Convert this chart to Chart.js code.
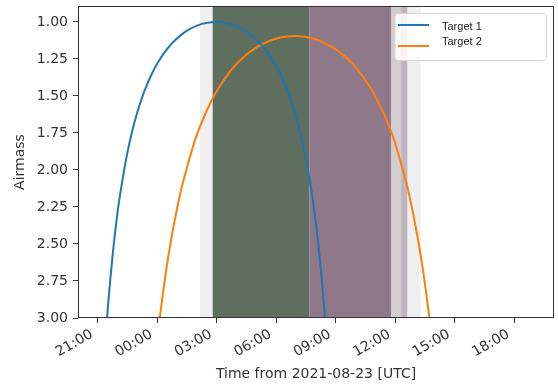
<!DOCTYPE html>
<html>
<head>
<meta charset="utf-8">
<script src="https://cdn.jsdelivr.net/npm/chart.js@4.4.0/dist/chart.umd.min.js"></script>
<style>
  html, body { margin: 0; padding: 0; background: #fff; }
</style>
</head>
<body>
<canvas id="chart" width="558" height="386"></canvas>
<script>
// --- DATA (hours relative to 2021-08-23 00:00 UTC) ---
const t1Hours = [-2.7, -2.6, -2.5, -2.25, -2.0, -1.75, -1.5, -1.25, -1.0, -0.75, -0.5, -0.25, 0, 0.25, 0.5, 0.75,
  1.0, 1.25, 1.5, 1.75, 2.0, 2.25, 2.5, 2.75, 3.0, 3.25, 3.5, 3.75, 4.0, 4.25, 4.5, 4.75,
  5.0, 5.25, 5.5, 5.75, 6.0, 6.25, 6.5, 6.75, 7.0, 7.25, 7.5, 7.75, 8.0, 8.25, 8.5, 8.6];
const t1Airmass = [3.33, 3.13, 2.94, 2.57, 2.28, 2.06, 1.876, 1.728, 1.606, 1.503, 1.417, 1.343, 1.281, 1.227, 1.182, 1.143,
  1.110, 1.082, 1.059, 1.040, 1.025, 1.013, 1.006, 1.001, 1.000, 1.002, 1.008, 1.017, 1.029, 1.045, 1.066, 1.090,
  1.120, 1.155, 1.196, 1.244, 1.300, 1.366, 1.443, 1.534, 1.643, 1.772, 1.930, 2.123, 2.366, 2.677, 3.087, 3.29];

const t2Hours = [-0.33, -0.08, 0.17, 0.42, 0.67, 0.92, 1.17, 1.42, 1.92, 2.42, 2.92, 3.42, 3.92, 4.42, 4.92, 5.42, 5.92, 6.42, 6.92,
  7.42, 7.92, 8.42, 8.92, 9.42, 9.92, 10.42, 10.92, 11.42, 11.92, 12.42, 12.67, 12.92, 13.17, 13.42, 13.67, 13.92, 14.17];
const t2Airmass = [3.59, 3.24, 2.95, 2.70, 2.49, 2.31, 2.15, 2.02, 1.79, 1.62, 1.485, 1.379, 1.294, 1.229, 1.178, 1.141, 1.115, 1.100, 1.095,
  1.100, 1.115, 1.141, 1.178, 1.229, 1.294, 1.379, 1.485, 1.62, 1.79, 2.02, 2.15, 2.31, 2.49, 2.70, 2.95, 3.24, 3.59];

const seriesLabels = ['Target 1', 'Target 2'];

// shaded time spans (hours)
const bandStart = [2.15, 2.79, 7.66, 11.78, 12.29, 12.62];
const bandEnd   = [2.79, 7.66, 11.78, 12.29, 12.62, 13.28];

const xTickHours = [-3, 0, 3, 6, 9, 12, 15, 18];
const xTickLabels = ['21:00', '00:00', '03:00', '06:00', '09:00', '12:00', '15:00', '18:00'];
const yTicks = [1.0, 1.25, 1.5, 1.75, 2.0, 2.25, 2.5, 2.75, 3.0];

// --- STYLE ---
const bandColors = ['#efefef', '#5f6f5f', '#8f7889', '#d1cdd1', '#c0b5be', '#efefef'];
const lineColors = ['#1f77b4', '#ff7f0e'];
const textColor = '#333';
const axisFont = { family: 'DejaVu Sans', size: 14 };

const toPts = (xs, ys) => xs.map((x, i) => ({ x, y: ys[i] }));

// bands behind the curves
const bandPlugin = {
  id: 'bands',
  beforeDatasetsDraw(chart) {
    const { ctx, chartArea: a, scales: { x } } = chart;
    ctx.save();
    bandStart.forEach((s, i) => {
      const x0 = x.getPixelForValue(s);
      const x1 = x.getPixelForValue(bandEnd[i]);
      ctx.fillStyle = bandColors[i];
      ctx.fillRect(x0, a.top, x1 - x0, a.bottom - a.top);
    });
    ctx.restore();
  }
};

// axes frame + legend box in the top right corner
const framePlugin = {
  id: 'frame',
  afterDraw(chart) {
    const { ctx, chartArea: a } = chart;
    ctx.save();
    ctx.strokeStyle = textColor;
    ctx.lineWidth = 1;
    ctx.strokeRect(a.left + 0.5, a.top + 0.5, a.right - a.left - 1, a.bottom - a.top - 1);

    // legend
    const lx = 395, ly = 13.5, lw = 151.5, lh = 47;
    ctx.beginPath();
    ctx.roundRect(lx, ly, lw, lh, 3);
    ctx.fillStyle = 'rgba(255,255,255,0.85)';
    ctx.fill();
    ctx.strokeStyle = '#d6d6d6';
    ctx.stroke();

    const lineY = [25, 46];
    const textY = [27, 42];
    ctx.font = '11px "Liberation Sans", Arial, sans-serif';
    ctx.textBaseline = 'middle';
    ctx.textAlign = 'left';
    chart.data.datasets.forEach((d, i) => {
      ctx.strokeStyle = d.borderColor;
      ctx.lineWidth = 2;
      ctx.beginPath();
      ctx.moveTo(398, lineY[i]);
      ctx.lineTo(429, lineY[i]);
      ctx.stroke();
      ctx.fillStyle = '#222';
      ctx.fillText(d.label, 442, textY[i]);
    });
    ctx.restore();
  }
};

new Chart(document.getElementById('chart'), {
  type: 'line',
  data: {
    datasets: [
      {
        label: seriesLabels[0],
        data: toPts(t1Hours, t1Airmass),
        borderColor: lineColors[0], borderWidth: 2,
        pointRadius: 0, cubicInterpolationMode: 'monotone', fill: false
      },
      {
        label: seriesLabels[1],
        data: toPts(t2Hours, t2Airmass),
        borderColor: lineColors[1], borderWidth: 2,
        pointRadius: 0, cubicInterpolationMode: 'monotone', fill: false
      }
    ]
  },
  options: {
    responsive: false,
    animation: false,
    devicePixelRatio: 1,
    layout: { padding: { left: 7.5, right: 4, top: 6, bottom: 0 } },
    plugins: { legend: { display: false }, tooltip: { enabled: false } },
    scales: {
      x: {
        type: 'linear',
        min: -4, max: 20,
        afterBuildTicks: s => { s.ticks = xTickHours.map(v => ({ value: v })); },
        afterFit: s => { s.height = 68; s.paddingLeft = 0; s.paddingRight = 0; },
        border: { display: false },
        grid: { drawOnChartArea: false, drawTicks: true, tickLength: 5, color: textColor },
        ticks: {
          autoSkip: false, minRotation: 30, maxRotation: 30, padding: 3, labelOffset: -6,
          color: textColor, font: axisFont,
          callback: (v, i) => xTickLabels[i]
        },
        title: { display: true, text: 'Time from 2021-08-23 [UTC]', color: textColor, font: axisFont, padding: { top: 4, bottom: 3 } }
      },
      y: {
        reverse: true,
        min: 0.892, max: 3.0,
        afterBuildTicks: s => { s.ticks = yTicks.map(v => ({ value: v })); },
        afterFit: s => { s.width = 70.5; s.paddingTop = 0; s.paddingBottom = 0; },
        border: { display: false },
        grid: { drawOnChartArea: false, drawTicks: true, tickLength: 5, color: textColor },
        ticks: {
          padding: 5, color: textColor, font: axisFont,
          callback: v => v.toFixed(2)
        },
        title: { display: true, text: 'Airmass', color: textColor, font: axisFont, padding: { top: 4, bottom: 4 } }
      }
    }
  },
  plugins: [bandPlugin, framePlugin]
});
</script>
</body>
</html>
